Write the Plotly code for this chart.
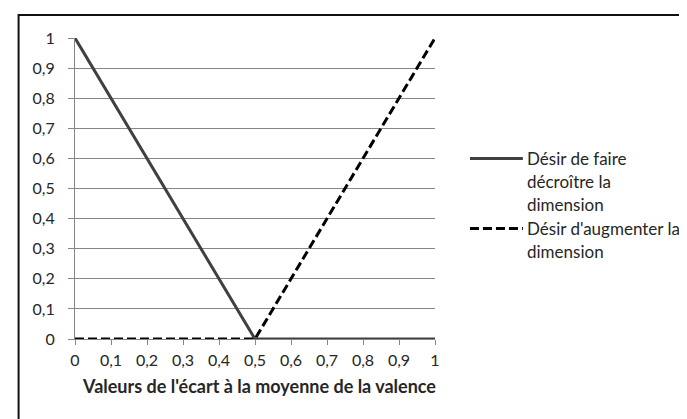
import plotly.graph_objects as go

# ---- data ----
x_values = [0, 0.1, 0.2, 0.3, 0.4, 0.5, 0.6, 0.7, 0.8, 0.9, 1]
decroitre = [1, 0.8, 0.6, 0.4, 0.2, 0, 0, 0, 0, 0, 0]
augmenter = [0, 0, 0, 0, 0, 0, 0.2, 0.4, 0.6, 0.8, 1]
series_names = ["Désir de faire décroître la dimension",
                "Désir d'augmenter la dimension"]
legend_lines = [["Désir de faire", "décroître la", "dimension"],
                ["Désir d'augmenter la", "dimension"]]
tick_vals = [0, 0.1, 0.2, 0.3, 0.4, 0.5, 0.6, 0.7, 0.8, 0.9, 1]
tick_text = ["0", "0,1", "0,2", "0,3", "0,4", "0,5", "0,6", "0,7", "0,8", "0,9", "1"]
x_title = "Valeurs de l'écart à la moyenne de la valence"

# ---- layout geometry (pixels) ----
W, H = 687, 419
L, R, T, B = 66.5, 427.0, 30.0, 331.0
FONT = "Lato"
TXT = "#262626"


def px_x(p):
    return (p - L) / (R - L)


def px_y(p):
    return (B - p) / (B - T)


fig = go.Figure()
fig.add_trace(go.Scatter(x=x_values, y=decroitre, mode="lines", name=series_names[0],
                         line=dict(color="#404040", width=3), cliponaxis=False,
                         showlegend=False))
fig.add_trace(go.Scatter(x=x_values, y=augmenter, mode="lines", name=series_names[1],
                         line=dict(color="#000000", width=3, dash="9px,4px"), cliponaxis=False,
                         showlegend=False))

shapes = [
    # outer chart border (only top and left visible)
    dict(type="rect", xref="paper", yref="paper",
         x0=px_x(10), x1=px_x(W + 20), y0=px_y(H + 20), y1=px_y(7),
         line=dict(color="#111111", width=2), fillcolor="rgba(0,0,0,0)", layer="above"),
    # legend samples
    dict(type="line", xref="paper", yref="paper",
         x0=px_x(462), x1=px_x(515), y0=px_y(150.5), y1=px_y(150.5),
         line=dict(color="#404040", width=3)),
    dict(type="line", xref="paper", yref="paper",
         x0=px_x(462), x1=px_x(515), y0=px_y(220.5), y1=px_y(220.5),
         line=dict(color="#000000", width=3, dash="9px,4px")),
]

annotations = []
starts = [150.5, 220.5]
for lines, y0 in zip(legend_lines, starts):
    for i, t in enumerate(lines):
        annotations.append(dict(text=t, xref="paper", yref="paper", x=px_x(517),
                                y=px_y(y0 + i * 23), xanchor="left", yanchor="middle",
                                showarrow=False, font=dict(family=FONT, size=17, color=TXT)))
annotations.append(dict(text="<b>" + x_title + "</b>", xref="paper", yref="paper",
                        x=px_x(251), y=px_y(378), xanchor="center", yanchor="middle",
                        showarrow=False, font=dict(family=FONT, size=18, color=TXT)))

fig.update_layout(
    width=W, height=H,
    margin=dict(l=L, r=W - R, t=T, b=H - B, pad=0),
    paper_bgcolor="white", plot_bgcolor="white",
    font=dict(family=FONT, size=16, color=TXT),
    shapes=shapes, annotations=annotations, showlegend=False,
)
fig.update_xaxes(range=[0, 1], tickvals=tick_vals, ticktext=tick_text,
                 showgrid=False, zeroline=False, showline=True, linecolor="#868686",
                 linewidth=1, ticks="outside", ticklen=5, tickcolor="#868686",
                 ticklabelstandoff=2,
                 tickfont=dict(family=FONT, size=16, color=TXT))
fig.update_yaxes(range=[0, 1], tickvals=tick_vals, ticktext=tick_text,
                 showgrid=True, gridcolor="#868686", gridwidth=1, zeroline=False,
                 showline=True, linecolor="#868686", linewidth=1,
                 ticks="outside", ticklen=6, tickcolor="#868686",
                 ticklabelstandoff=10,
                 tickfont=dict(family=FONT, size=16, color=TXT))

fig.write_html("out.html")
